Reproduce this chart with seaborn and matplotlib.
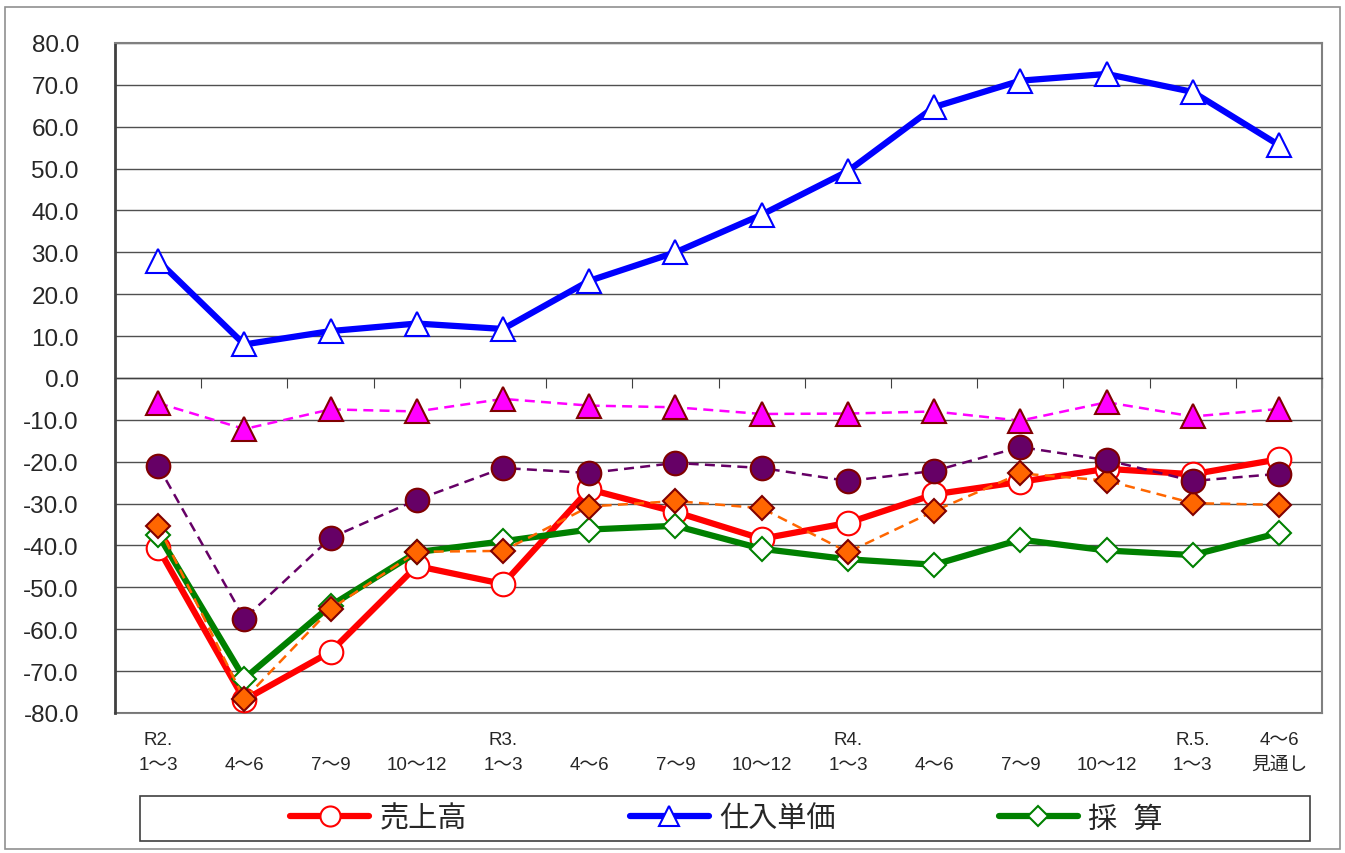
import matplotlib
matplotlib.use('Agg')
import matplotlib.pyplot as plt
import matplotlib.patches as patches
import numpy as np
import seaborn as sns

# quarters (x axis), two-line labels
quarters = ['R2.\n1～3', ' \n4～6', ' \n7～9', ' \n10～12',
            'R3.\n1～3', ' \n4～6', ' \n7～9', ' \n10～12',
            'R4.\n1～3', ' \n4～6', ' \n7～9', ' \n10～12',
            'R.5.\n1～3', '4～6\n見通し']

# main series (legend)
uriage = [-40.6, -76.9, -65.4, -44.9, -49.2, -26.6, -32.0, -38.4, -34.6, -27.8, -24.8, -21.7, -23.0, -19.4]
shiire = [28.0, 8.0, 11.2, 13.0, 11.7, 23.2, 30.0, 39.0, 49.4, 64.7, 71.0, 72.6, 68.3, 55.6]
saisan = [-37.4, -71.8, -54.4, -41.6, -39.0, -36.2, -35.3, -40.8, -43.3, -44.6, -38.6, -41.2, -42.3, -37.0]

# dashed series (not in legend)
dash_orange = [-35.3, -76.7, -55.2, -41.5, -41.3, -30.7, -29.4, -31.1, -41.6, -31.8, -22.8, -24.5, -29.9, -30.3]
dash_purple = [-21.0, -57.5, -38.2, -29.1, -21.5, -22.7, -20.3, -21.5, -24.6, -22.2, -16.5, -19.6, -24.6, -22.9]
dash_magenta = [-6.0, -12.2, -7.5, -8.0, -5.0, -6.6, -7.0, -8.6, -8.5, -8.0, -10.2, -5.8, -9.2, -7.4]

yticks = np.arange(-80, 81, 10)

sns.set_style('white')
plt.rcParams['font.family'] = ['Liberation Sans', 'Noto Sans CJK JP', 'DejaVu Sans']

fig = plt.figure(figsize=(13.45, 8.54), dpi=100)
ax = fig.add_axes([0.0855, 0.164, 0.8975, 0.7845])

x = np.arange(len(quarters))

# main series
sns.lineplot(x=x, y=shiire, ax=ax, color='#0000FF', lw=4.5, marker='^', markersize=17,
             markerfacecolor='white', markeredgecolor='#0000FF', markeredgewidth=1.5,
             zorder=3, label='仕入単価')
sns.lineplot(x=x, y=uriage, ax=ax, color='#FF0000', lw=4.5, marker='o', markersize=17,
             markerfacecolor='white', markeredgecolor='#FF0000', markeredgewidth=1.5,
             zorder=3, label='売上高')
sns.lineplot(x=x, y=saisan, ax=ax, color='#008000', lw=4.5, marker='D', markersize=12,
             markerfacecolor='white', markeredgecolor='#008000', markeredgewidth=1.5,
             zorder=4, label='採  算')

# dashed series
sns.lineplot(x=x, y=dash_orange, ax=ax, color='#FF6600', lw=1.8, linestyle=(0, (4, 2.5)),
             marker='D', markersize=12, markerfacecolor='#FF6600', markeredgecolor='#800000',
             markeredgewidth=1.5, zorder=5, label='_nolegend_')
sns.lineplot(x=x, y=dash_purple, ax=ax, color='#660066', lw=1.8, linestyle=(0, (4, 2.5)),
             marker='o', markersize=17, markerfacecolor='#660066', markeredgecolor='#800000',
             markeredgewidth=1.5, zorder=6, label='_nolegend_')
sns.lineplot(x=x, y=dash_magenta, ax=ax, color='#FF00FF', lw=1.8, linestyle=(0, (4, 2.5)),
             marker='^', markersize=17, markerfacecolor='#FF00FF', markeredgecolor='#800000',
             markeredgewidth=1.5, zorder=7, label='_nolegend_')

ax.set_xlim(-0.5, len(quarters) - 0.5)
ax.set_ylim(-80, 80)
ax.set_yticks(yticks)
ax.set_yticklabels([f'{v:.1f}' for v in yticks], fontsize=17.5)
ax.tick_params(axis='y', length=3, pad=23, color='#404040')
ax.yaxis.grid(True, color='#505050', lw=1.0)
ax.set_axisbelow(True)

# category axis drawn at zero with ticks at category boundaries
ax.spines['bottom'].set_position(('data', 0))
ax.spines['bottom'].set_color('#404040')
ax.spines['bottom'].set_linewidth(1.0)
ax.set_xticks(np.arange(len(quarters) + 1) - 0.5)
ax.set_xticklabels([])
ax.tick_params(axis='x', direction='out', length=7, color='#404040', bottom=True)
for s in ['top', 'right']:
    ax.spines[s].set_color('#808080')
    ax.spines[s].set_linewidth(1.5)
ax.spines['left'].set_color('#404040')
ax.spines['left'].set_linewidth(2)

# labels under the plot area
sec = ax.secondary_xaxis('bottom')
sec.set_xticks(x)
sec.set_xticklabels(quarters, fontsize=13.5, linespacing=1.6)
sec.tick_params(length=0, pad=13)
sec.spines['bottom'].set_color('#808080')
sec.spines['bottom'].set_linewidth(1.5)

ax.set_xlabel('')
ax.set_ylabel('')

# legend in a box below
if ax.get_legend() is not None:
    ax.get_legend().remove()
handles, labels = ax.get_legend_handles_labels()
order = [labels.index('売上高'), labels.index('仕入単価'), labels.index('採  算')]
fig.legend([handles[i] for i in order], [labels[i] for i in order],
           loc='center', bbox_to_anchor=(0.54, 0.0404), ncol=3, frameon=False,
           fontsize=21, handlelength=2.7, handletextpad=0.35, columnspacing=5.6,
           markerscale=0.85)
fig.patches.append(patches.Rectangle((0.104, 0.014), 0.870, 0.0527, transform=fig.transFigure,
                                     fill=False, edgecolor='#404040', lw=1.2))
fig.patches.append(patches.Rectangle((0.0037, 0.0047), 0.9926, 0.986, transform=fig.transFigure,
                                     fill=False, edgecolor='#909090', lw=1.2))

fig.savefig('out.png', dpi=100)
